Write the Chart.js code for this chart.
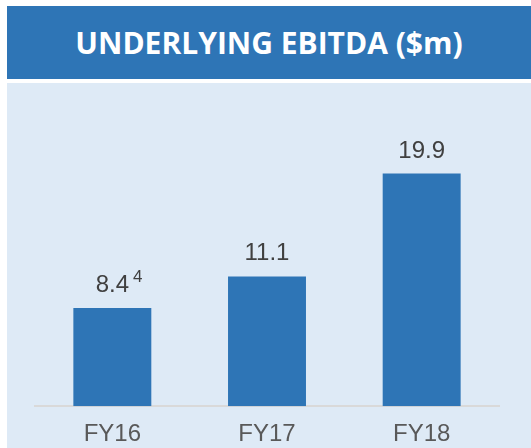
<!DOCTYPE html>
<html>
<head>
<meta charset="utf-8">
<script src="https://cdn.jsdelivr.net/npm/chart.js@4/dist/chart.umd.min.js"></script>
<style>
  html, body { margin: 0; padding: 0; background: #ffffff; }
  body { width: 531px; height: 448px; position: relative; overflow: hidden; }
  #header {
    position: absolute; left: 7px; top: 6px; width: 524px; height: 73px;
    background: #2e75b6; color: #ffffff;
    font-family: "Open Sans", sans-serif; font-weight: 700; font-size: 30px;
    display: flex; align-items: center; justify-content: center;
  }
  #panel {
    position: absolute; left: 7px; top: 83px; width: 524px; height: 365px;
    background: #deeaf6;
  }
  #wrap { position: absolute; left: 0; top: 0; width: 531px; height: 463px; }
</style>
</head>
<body>
<div id="header">UNDERLYING EBITDA ($m)</div>
<div id="panel"></div>
<div id="wrap"><canvas id="c"></canvas></div>
<script>
const categories = ["FY16", "FY17", "FY18"];
const ebitda = [8.4, 11.1, 19.9];
const footnotes = ["4", "", ""];

const valueLabels = {
  id: 'valueLabels',
  afterDatasetsDraw(chart) {
    const ctx = chart.ctx;
    const meta = chart.getDatasetMeta(0);
    ctx.save();
    meta.data.forEach((bar, i) => {
      const txt = ebitda[i].toFixed(1);
      ctx.font = '24px "Liberation Sans", Arial, sans-serif';
      ctx.fillStyle = '#404040';
      ctx.textAlign = 'center';
      ctx.textBaseline = 'alphabetic';
      const y = bar.y - 16;
      ctx.fillText(txt, bar.x, y);
      if (footnotes[i]) {
        const w = ctx.measureText(txt).width;
        ctx.font = '17px "Liberation Sans", Arial, sans-serif';
        ctx.textAlign = 'left';
        ctx.fillText(footnotes[i], bar.x + w / 2 + 4, y - 10);
      }
    });
    ctx.restore();
  }
};

new Chart(document.getElementById('c'), {
  type: 'bar',
  data: {
    labels: categories,
    datasets: [{
      data: ebitda,
      backgroundColor: '#2e75b6',
      borderWidth: 0,
      barPercentage: 1.0,
      categoryPercentage: 0.504
    }]
  },
  options: {
    responsive: true,
    maintainAspectRatio: false,
    animation: false,
    layout: { padding: { top: 114, left: 35, right: 32, bottom: 0 } },
    plugins: { legend: { display: false }, tooltip: { enabled: false } },
    scales: {
      y: { display: false, min: 0, max: 25 },
      x: {
        grid: { display: false, drawTicks: false },
        border: { display: true, color: '#d9d9d9', width: 2 },
        ticks: {
          color: '#595959',
          padding: 14,
          font: { family: '"Liberation Sans", Arial, sans-serif', size: 24 }
        }
      }
    }
  },
  plugins: [valueLabels]
});
</script>
</body>
</html>
